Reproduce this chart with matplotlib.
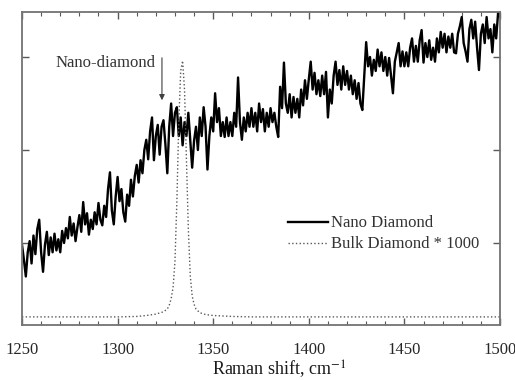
import numpy as np
import matplotlib
matplotlib.use("Agg")
import matplotlib.pyplot as plt

plt.rcParams['font.family'] = ['Liberation Serif', 'DejaVu Serif']
plt.rcParams['mathtext.fontset'] = 'stix'

# Nano diamond spectrum: one value per cm^-1 from 1250 to 1500 (arb. counts)
nano_start = 1250
nano_values = [
    980, 820, 640, 900, 1020, 780, 1080, 880, 1150, 1250,       # 1250-1259
    900, 690, 980, 1120, 870, 1060, 900, 1100, 920, 1040,       # 1260-1269
    900, 1130, 1000, 1160, 1050, 1280, 1080, 1210, 1020, 1170,  # 1270-1279
    1300, 1120, 1440, 1200, 1320, 1090, 1250, 1150, 1330, 1200, # 1280-1289
    1430, 1250, 1190, 1400, 1280, 1580, 1760, 1350, 1200, 1500, # 1290-1299
    1710, 1450, 1580, 1330, 1230, 1520, 1400, 1680, 1500, 1720, # 1300-1309
    1840, 1650, 1890, 1750, 2000, 2110, 1900, 2200, 2350, 1890, # 1310-1319
    2150, 2270, 1950, 2250, 2320, 2060, 1750, 2250, 2500, 2150, # 1320-1329
    2400, 2460, 2150, 2350, 2050, 2300, 2150, 2400, 2100, 1810, # 1330-1339
    2100, 2250, 2000, 2350, 2150, 2460, 2250, 1790, 2150, 2350, # 1340-1349
    2200, 2610, 2300, 2450, 2150, 2300, 2140, 2350, 2150, 2300, # 1350-1359
    2150, 2400, 2250, 2780, 2300, 2110, 2350, 2200, 2400, 2250, # 1360-1369
    2450, 2250, 2400, 2200, 2500, 2300, 2440, 2200, 2400, 2250, # 1370-1379
    2450, 2300, 2400, 2250, 2140, 2680, 2450, 2940, 2500, 2400, # 1380-1389
    2600, 2350, 2570, 2400, 2550, 2350, 2650, 2480, 2750, 2550, # 1390-1399
    2760, 2950, 2650, 2830, 2600, 2750, 2580, 2800, 2600, 2840, # 1400-1409
    2350, 2650, 2500, 2800, 2950, 2700, 2860, 2650, 2900, 2700, # 1410-1419
    2850, 2650, 2800, 2600, 2750, 2550, 2720, 2500, 2430, 2800, # 1420-1429
    3160, 2900, 3000, 2800, 2970, 2850, 3080, 2900, 3050, 2850, # 1430-1439
    3000, 2800, 2990, 2800, 2610, 2950, 3050, 3150, 2900, 3060, # 1440-1449
    2900, 3050, 2900, 3100, 3200, 2950, 3120, 2950, 3180, 3290, # 1450-1459
    2940, 3150, 3000, 3180, 2970, 3100, 2950, 3200, 3050, 3270, # 1460-1469
    3100, 3250, 3050, 3220, 3100, 3250, 3050, 3040, 3250, 3330, # 1470-1479
    3430, 3150, 3060, 2950, 3300, 3400, 3200, 3380, 3100, 2860, # 1480-1489
    3250, 3350, 3150, 3430, 3200, 3300, 3050, 3350, 3200, 3475, # 1490-1499
    3440,                                                       # 1500
]
nano_x = nano_start + np.arange(len(nano_values))

# Bulk diamond (x1000) spectrum
bulk_x = [1250, 1260, 1270, 1280, 1290, 1300, 1310, 1315, 1320, 1324,
          1326, 1327, 1328, 1329, 1330, 1331, 1332, 1333, 1334, 1335,
          1336, 1337, 1338, 1339, 1340, 1341, 1343, 1346, 1350, 1360,
          1370, 1380, 1400, 1420, 1440, 1460, 1480, 1500]
bulk_y = [205, 205, 205, 205, 205, 205, 210, 220, 235, 260,
          290, 330, 400, 520, 800, 1450, 2300, 2850, 2960, 2650,
          1900, 1150, 650, 430, 340, 290, 250, 230, 220, 210,
          205, 205, 205, 205, 205, 205, 205, 205]

x_ticks = [1250, 1300, 1350, 1400, 1450, 1500]
y_ticks = [1000, 2000, 3000]

fig = plt.figure(figsize=(5.15, 3.8), dpi=100)
ax = fig.add_axes([22/515, 55/380, 478/515, 313/380])

ax.plot(nano_x, nano_values, color='black', lw=1.7, label='Nano Diamond')
ax.plot(bulk_x, bulk_y, color='0.35', lw=1.0, ls=':', label='Bulk Diamond * 1000')

ax.set_xlim(1250, 1500)
ax.set_ylim(118, 3484)
ax.set_xticks(x_ticks)
ax.set_xticks(np.arange(1250, 1501, 10), minor=True)
ax.set_yticks(y_ticks)
ax.set_yticklabels([])
ax.tick_params(axis='both', which='both', direction='in', top=True, right=True,
               colors='0.35', labelcolor='0.15')
ax.tick_params(axis='x', which='major', length=5, width=1, pad=12, labelsize=12)
ax.tick_params(axis='x', which='minor', length=3, width=0.8)
ax.tick_params(axis='y', which='major', length=5, width=1)
for s in ax.spines.values():
    s.set_color('0.45')
    s.set_linewidth(1.3)

ax.set_xlabel('Raman shift, cm$^{-1}$', fontsize=13, color='0.1')
ax.xaxis.set_label_coords(0.538, -0.105)

ax.annotate('', xy=(1323.2, 2505), xytext=(1323.2, 3021),
            arrowprops=dict(arrowstyle='-|>', color='0.25', lw=0.8, mutation_scale=8))
ax.text(1267.3, 2935, 'Nano-diamond', fontsize=12, color='0.2', ha='left', va='center')

leg = ax.legend(loc='upper left', bbox_to_anchor=(0.5565, 0.35), frameon=False,
                fontsize=12, borderpad=0, borderaxespad=0, handlelength=2.4,
                handletextpad=0.15, labelspacing=0.3)
for t in leg.get_texts():
    t.set_color('0.2')

fig.savefig('out.png', dpi=100)
